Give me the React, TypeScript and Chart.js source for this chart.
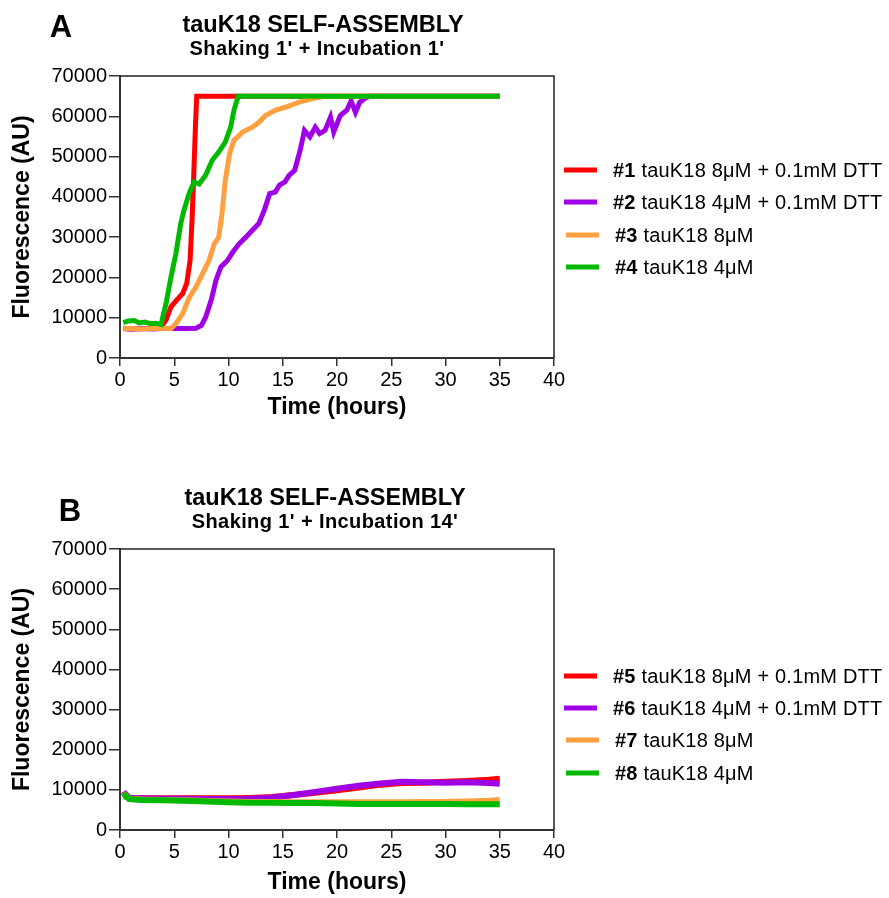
import React, { useEffect, useRef } from "react";
import { Chart, registerables } from "chart.js";

Chart.register(...registerables);

const FONT = '"Liberation Sans", Arial, Helvetica, sans-serif';
const W = 889;
const H = 449;

// ---------- ticks ----------
const xTickValues = [0, 5, 10, 15, 20, 25, 30, 35, 40];
const yTickValues = [0, 10000, 20000, 30000, 40000, 50000, 60000, 70000];

// ---------- colours ----------
const seriesColors = ["rgb(255,0,0)", "rgb(160,0,230)", "rgb(255,160,64)", "rgb(0,185,0)"];

// ---------- panel A data ----------
const legendIdsA = ["#1", "#2", "#3", "#4"];
const legendTextsA = ["tauK18 8\u03bcM + 0.1mM DTT", "tauK18 4\u03bcM + 0.1mM DTT", "tauK18 8\u03bcM", "tauK18 4\u03bcM"];

const timeA1 = [0.3, 1, 2, 3, 3.7, 4.24, 4.7, 5.2, 5.78, 6.15, 6.46, 6.64, 6.79, 6.95, 7.07, 35];
const valuesA1 = [7300, 7200, 7300, 7300, 7400, 9400, 12700, 14300, 16000, 18500, 24200, 34200, 44900, 57300, 65000, 65000];

const timeA2 = [0.3, 1, 2, 3, 4, 5, 6, 7.0, 7.5, 7.9, 8.4, 8.85, 9.3, 9.9, 10.4, 11.0, 11.6, 12.2, 12.8, 13.3, 13.8, 14.3, 14.7, 15.2, 15.6, 16.1, 16.6, 17.0, 17.5, 18.0, 18.4, 18.9, 19.4, 19.7, 20.3, 20.9, 21.3, 21.7, 22.1, 22.6, 23.0, 35];
const valuesA2 = [7300, 7200, 7300, 7200, 7300, 7300, 7300, 7400, 8100, 10200, 14300, 19300, 22600, 24200, 26300, 28400, 30000, 31700, 33400, 36700, 40800, 41200, 42900, 43700, 45400, 46600, 51500, 56500, 54900, 57300, 55700, 56500, 59800, 56100, 60200, 61500, 63800, 61000, 63500, 64500, 65000, 65000];

const timeA3 = [0.3, 1, 2, 3, 4, 4.7, 5.15, 5.78, 6.4, 7.0, 7.6, 8.2, 8.7, 9.1, 9.4, 9.7, 10.1, 10.5, 11.3, 12.2, 12.8, 13.4, 14.3, 15.3, 16.5, 17.8, 19.0, 35];
const valuesA3 = [7300, 7300, 7200, 7300, 7300, 7300, 8500, 11000, 15100, 17600, 20900, 24200, 28400, 30000, 35800, 44100, 50700, 54000, 56100, 57300, 58500, 60200, 61500, 62300, 63500, 64400, 65000, 65000];

const timeA4 = [0.3, 0.8, 1.3, 1.8, 2.3, 2.8, 3.3, 3.78, 4.24, 4.7, 5.15, 5.6, 5.9, 6.37, 6.83, 7.3, 7.9, 8.5, 9.1, 9.7, 10.2, 10.5, 10.9, 35];
const valuesA4 = [8800, 9200, 9300, 8700, 8900, 8500, 8600, 8300, 13500, 20100, 25900, 33400, 36700, 40800, 43700, 43200, 45400, 49100, 51100, 53600, 57300, 61500, 65000, 65000];

// ---------- panel B data ----------
const legendIdsB = ["#5", "#6", "#7", "#8"];
const legendTextsB = ["tauK18 8\u03bcM + 0.1mM DTT", "tauK18 4\u03bcM + 0.1mM DTT", "tauK18 8\u03bcM", "tauK18 4\u03bcM"];

const timeB = [0.25, 0.5, 0.85, 2, 4, 6, 8, 10, 12, 14, 16, 18, 20, 22, 24, 26, 28, 30, 32, 34, 35];
const valuesB5 = [8600, 8800, 8000, 7900, 7900, 7900, 7900, 7900, 8000, 8200, 8700, 9300, 9900, 10600, 11300, 11700, 11800, 12000, 12200, 12500, 12800];
const valuesB6 = [8500, 9000, 8000, 7900, 7800, 7800, 7700, 7700, 7800, 8100, 8700, 9500, 10300, 11000, 11600, 12000, 11900, 11800, 11900, 11700, 11500];
const valuesB7 = [8300, 8700, 7800, 7600, 7500, 7400, 7200, 7100, 7000, 7000, 6900, 6900, 6900, 6900, 6900, 6900, 7000, 7000, 7100, 7300, 7500];
const valuesB8 = [8200, 8600, 7700, 7500, 7400, 7300, 7100, 6900, 6800, 6800, 6700, 6700, 6600, 6500, 6500, 6500, 6500, 6500, 6400, 6400, 6400];

const TITLE = "tauK18 SELF-ASSEMBLY";

const panels = [
  {
    key: "A",
    top: 0,
    letter: "A",
    subtitle: "Shaking 1' + Incubation 1'",
    ids: legendIdsA,
    texts: legendTextsA,
    series: [
      { t: timeA1, v: valuesA1 },
      { t: timeA2, v: valuesA2 },
      { t: timeA3, v: valuesA3 },
      { t: timeA4, v: valuesA4 },
    ],
    lineWidth: 5,
    plotTop: 76,
    plotBottom: 358,
    letterX: 61,
    letterY: 37,
    titleX: 323,
    titleY: 32,
    subX: 317,
    subY: 55,
    xTitlePad: 28,
    legendY: [170, 202, 235, 267],
  },
  {
    key: "B",
    top: H,
    letter: "B",
    subtitle: "Shaking 1' + Incubation 14'",
    ids: legendIdsB,
    texts: legendTextsB,
    series: [
      { t: timeB, v: valuesB5 },
      { t: timeB, v: valuesB6 },
      { t: timeB, v: valuesB7 },
      { t: timeB, v: valuesB8 },
    ],
    lineWidth: 6,
    plotTop: 100,
    plotBottom: 381,
    letterX: 70,
    letterY: 72,
    titleX: 325,
    titleY: 56,
    subX: 325,
    subY: 79,
    xTitlePad: 2,
    legendY: [227, 259, 291, 324],
  },
];

const PLOT_LEFT = 120;
const PLOT_RIGHT = 554;

const decorPlugin = {
  id: "decor",
  afterDraw(chart: any, _args: any, opts: any) {
    const { ctx, chartArea } = chart;
    ctx.save();
    // plot frame (top & right)
    ctx.strokeStyle = "#222";
    ctx.lineWidth = 1.5;
    ctx.beginPath();
    ctx.moveTo(chartArea.left, chartArea.top);
    ctx.lineTo(chartArea.right, chartArea.top);
    ctx.lineTo(chartArea.right, chartArea.bottom);
    ctx.stroke();

    ctx.fillStyle = "#000";
    ctx.textBaseline = "alphabetic";
    // panel letter
    ctx.textAlign = "center";
    ctx.font = `bold 31px ${FONT}`;
    ctx.fillText(opts.letter, opts.letterX, opts.letterY);
    // title
    ctx.font = `bold 23.5px ${FONT}`;
    ctx.fillText(opts.title, opts.titleX, opts.titleY);
    // subtitle
    ctx.font = `bold 20px ${FONT}`;
    (ctx as any).letterSpacing = "0.4px";
    ctx.fillText(opts.subtitle, opts.subX, opts.subY);
    (ctx as any).letterSpacing = "0px";

    // legend
    ctx.textAlign = "left";
    chart.data.datasets.forEach((ds: any, i: number) => {
      const yc = opts.legendY[i];
      const dx = i >= 2 ? 2 : 0;
      ctx.strokeStyle = ds.borderColor;
      ctx.lineWidth = 5;
      ctx.beginPath();
      ctx.moveTo(564 + dx, yc);
      ctx.lineTo(597 + dx, yc);
      ctx.stroke();
      const label: string = ds.label;
      const sp = label.indexOf(" ");
      const id = label.slice(0, sp);
      const rest = label.slice(sp);
      const base = yc + 7;
      (ctx as any).letterSpacing = "0.2px";
      ctx.font = `bold 20px ${FONT}`;
      ctx.fillText(id, 613 + dx, base);
      const w = ctx.measureText(id).width;
      ctx.font = `20px ${FONT}`;
      ctx.fillText(rest, 613 + dx + w, base);
      (ctx as any).letterSpacing = "0px";
    });
    ctx.restore();
  },
};

function Panel({ cfg }: { cfg: any }) {
  const ref = useRef<HTMLCanvasElement>(null);
  useEffect(() => {
    if (!ref.current) return;
    const n = cfg.series.length;
    const chart = new Chart(ref.current, {
      type: "line",
      data: {
        datasets: cfg.series.map((s: any, i: number) => ({
          label: `${cfg.ids[i]} ${cfg.texts[i]}`,
          data: s.t.map((t: number, j: number) => ({ x: t, y: s.v[j] })),
          borderColor: seriesColors[i],
          backgroundColor: seriesColors[i],
          borderWidth: cfg.lineWidth,
          pointRadius: 0,
          tension: 0,
          fill: false,
          order: n - i,
        })),
      },
      options: {
        responsive: false,
        animation: false,
        devicePixelRatio: 1,
        layout: { padding: { left: 0, right: W - PLOT_RIGHT, top: cfg.plotTop, bottom: 0 } },
        plugins: {
          legend: { display: false },
          tooltip: { enabled: false },
          title: { display: false },
          decor: {
            letter: cfg.letter,
            letterX: cfg.letterX,
            letterY: cfg.letterY,
            title: TITLE,
            titleX: cfg.titleX,
            titleY: cfg.titleY,
            subtitle: cfg.subtitle,
            subX: cfg.subX,
            subY: cfg.subY,
            legendY: cfg.legendY,
          },
        } as any,
        scales: {
          x: {
            type: "linear",
            min: 0,
            max: 40,
            afterBuildTicks: (s: any) => {
              s.ticks = xTickValues.map((v) => ({ value: v }));
            },
            afterFit: (s: any) => {
              s.height = H - cfg.plotBottom;
            },
            grid: { display: true, drawOnChartArea: false, drawTicks: true, tickLength: 8, color: "#333", lineWidth: 1.5 },
            border: { display: true, color: "#333", width: 2 },
            ticks: {
              font: { family: FONT, size: 20 },
              color: "#000",
              padding: 2,
              maxRotation: 0,
              autoSkip: false,
              callback: (v: any) => String(v),
            },
            title: {
              display: true,
              text: "Time (hours)",
              font: { family: FONT, size: 23, weight: "bold" },
              color: "#000",
              padding: { top: 0, bottom: cfg.xTitlePad },
            },
          },
          y: {
            type: "linear",
            min: 0,
            max: 70000,
            afterBuildTicks: (s: any) => {
              s.ticks = yTickValues.map((v) => ({ value: v }));
            },
            afterFit: (s: any) => {
              s.width = PLOT_LEFT;
            },
            grid: { display: true, drawOnChartArea: false, drawTicks: true, tickLength: 11, color: "#333", lineWidth: 1.5 },
            border: { display: true, color: "#333", width: 2 },
            ticks: {
              font: { family: FONT, size: 20 },
              color: "#000",
              padding: 2,
              autoSkip: false,
              callback: (v: any) => String(v),
            },
            title: {
              display: true,
              text: "Fluorescence (AU)",
              font: { family: FONT, size: 23, weight: "bold" },
              color: "#000",
              padding: { top: 9, bottom: 0 },
            },
          },
        },
      } as any,
      plugins: [decorPlugin as any],
    });
    return () => chart.destroy();
  }, [cfg]);
  return (
    <canvas
      ref={ref}
      width={W}
      height={H}
      style={{ position: "absolute", left: 0, top: cfg.top, width: W, height: H, display: "block" }}
    />
  );
}

export default function App() {
  return (
    <div style={{ position: "absolute", left: 0, top: 0, width: W, height: 2 * H, background: "#fff" }}>
      {panels.map((p) => (
        <Panel key={p.key} cfg={p} />
      ))}
    </div>
  );
}
